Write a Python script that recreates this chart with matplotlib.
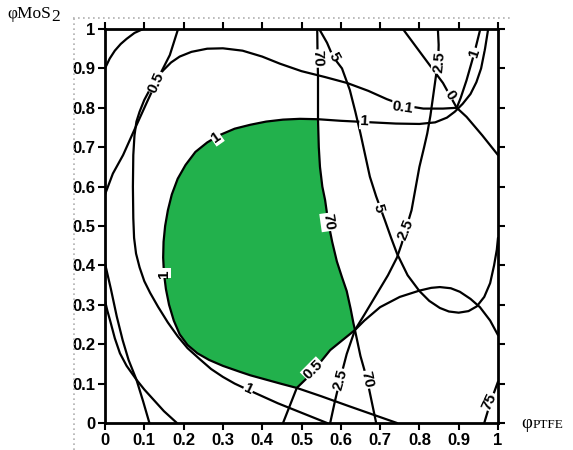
import numpy as np
import matplotlib
matplotlib.use("Agg")
import matplotlib.pyplot as plt
from matplotlib.lines import Line2D

# ---------------- data ----------------
tick_values = [0, 0.1, 0.2, 0.3, 0.4, 0.5, 0.6, 0.7, 0.8, 0.9, 1.0]
tick_labels = ["0", "0.1", "0.2", "0.3", "0.4", "0.5", "0.6", "0.7", "0.8", "0.9", "1"]

# curve A (top-left corner arc)
curve_a_x = [0.0, 0.012, 0.025, 0.04, 0.055, 0.075, 0.097]
curve_a_y = [0.90, 0.925, 0.945, 0.962, 0.975, 0.99, 1.0]

# curve B ("0.5", from left spine to top)
curve_b_x = [0.0, 0.02, 0.046, 0.072, 0.107, 0.135, 0.165, 0.186]
curve_b_y = [0.58, 0.633, 0.68, 0.738, 0.815, 0.875, 0.934, 1.0]

# curves F and G (bottom-left)
curve_f_x = [0.0, 0.015, 0.03, 0.045, 0.06, 0.08, 0.097, 0.113]
curve_f_y = [0.405, 0.34, 0.27, 0.21, 0.16, 0.11, 0.055, 0.0]
curve_g_x = [0.0, 0.006, 0.013, 0.025, 0.038, 0.055, 0.08, 0.10, 0.12, 0.15, 0.183]
curve_g_y = [0.31, 0.285, 0.26, 0.215, 0.177, 0.145, 0.11, 0.085, 0.063, 0.03, 0.0]

# curve D ("1" / "0.1", big outer curve)
curve_d_x = [0.565, 0.52, 0.49, 0.44, 0.40, 0.36, 0.33, 0.30, 0.27, 0.24, 0.21, 0.185,
             0.16, 0.135, 0.115, 0.10, 0.088, 0.079, 0.074, 0.072, 0.071, 0.072, 0.075,
             0.08, 0.088, 0.10, 0.115, 0.13, 0.148, 0.168, 0.19, 0.22, 0.26, 0.30, 0.35,
             0.40, 0.445, 0.50, 0.56, 0.616, 0.67, 0.717, 0.76, 0.81, 0.86, 0.895,
             0.905, 0.92, 0.94, 0.955]
curve_d_y = [0.0, 0.018, 0.03, 0.05, 0.068, 0.086, 0.10, 0.117, 0.137, 0.163, 0.19, 0.22,
             0.255, 0.295, 0.33, 0.36, 0.395, 0.43, 0.47, 0.52, 0.60, 0.68, 0.73,
             0.765, 0.79, 0.82, 0.848, 0.872, 0.895, 0.915, 0.93, 0.942, 0.95, 0.951, 0.945,
             0.93, 0.912, 0.893, 0.878, 0.863, 0.843, 0.822, 0.806, 0.798, 0.798, 0.80,
             0.825, 0.87, 0.94, 1.0]

# curve E ("1", boundary of the green region), split in three pieces
curve_e_low_x = [0.743, 0.68, 0.62, 0.55, 0.488]
curve_e_low_y = [0.0, 0.022, 0.043, 0.068, 0.089]
curve_e_green_x = [0.488, 0.45, 0.41, 0.37, 0.343, 0.30, 0.265, 0.235, 0.21, 0.19, 0.175,
                   0.163, 0.155, 0.15, 0.148, 0.149, 0.153, 0.16, 0.17, 0.185, 0.205, 0.23,
                   0.26, 0.29, 0.33, 0.37, 0.41, 0.453, 0.496, 0.542]
curve_e_green_y = [0.089, 0.099, 0.11, 0.121, 0.130, 0.145, 0.16, 0.177, 0.198, 0.225, 0.26,
                   0.30, 0.34, 0.38, 0.42, 0.46, 0.50, 0.54, 0.58, 0.62, 0.655, 0.688,
                   0.712, 0.73, 0.747, 0.757, 0.765, 0.77, 0.772, 0.771]
curve_e_right_x = [0.542, 0.60, 0.66, 0.74, 0.80, 0.84, 0.87, 0.89, 0.91, 0.93, 0.945,
                   0.957, 0.967, 0.975]
curve_e_right_y = [0.771, 0.767, 0.764, 0.76, 0.759, 0.763, 0.775, 0.79, 0.81, 0.835, 0.865,
                   0.90, 0.95, 1.0]

# curve "70", split in three pieces
curve_70_top_x = [0.54, 0.541, 0.542, 0.542]
curve_70_top_y = [1.0, 0.92, 0.88, 0.771]
curve_70_green_x = [0.542, 0.544, 0.547, 0.553, 0.56, 0.568, 0.578, 0.59, 0.603, 0.615,
                    0.625, 0.632, 0.636]
curve_70_green_y = [0.771, 0.70, 0.65, 0.60, 0.566, 0.51, 0.46, 0.41, 0.37, 0.335,
                    0.29, 0.254, 0.236]
curve_70_low_x = [0.636, 0.65, 0.667, 0.69]
curve_70_low_y = [0.236, 0.17, 0.11, 0.0]

# curve "0.5", split in three pieces
curve_05_low_x = [0.453, 0.488]
curve_05_low_y = [0.0, 0.089]
curve_05_green_x = [0.488, 0.52, 0.573, 0.636]
curve_05_green_y = [0.089, 0.12, 0.185, 0.236]
curve_05_wave_x = [0.636, 0.66, 0.70, 0.75, 0.80, 0.83, 0.852, 0.88, 0.903, 0.93, 0.954,
                   0.98, 1.0]
curve_05_wave_y = [0.236, 0.26, 0.294, 0.32, 0.336, 0.343, 0.345, 0.342, 0.333, 0.315,
                   0.294, 0.26, 0.223]

# curve "2.5"
curve_25_x = [0.573, 0.585, 0.598, 0.615, 0.636, 0.66, 0.69, 0.72, 0.743, 0.755, 0.765,
              0.78, 0.79, 0.80, 0.812, 0.82, 0.828, 0.835, 0.842, 0.848, 0.849, 0.847]
curve_25_y = [0.0, 0.055, 0.11, 0.175, 0.236, 0.275, 0.325, 0.375, 0.42, 0.455, 0.49,
              0.54, 0.595, 0.65, 0.70, 0.735, 0.78, 0.83, 0.88, 0.92, 0.96, 1.0]

# curve "5"
curve_5_x = [0.545, 0.565, 0.58, 0.603, 0.623, 0.637, 0.65, 0.662, 0.674, 0.69, 0.712,
             0.728, 0.743, 0.77, 0.80, 0.825, 0.852, 0.875, 0.90, 0.925, 0.946, 0.965,
             0.98, 0.99, 0.997, 1.0]
curve_5_y = [1.0, 0.965, 0.93, 0.90, 0.845, 0.79, 0.735, 0.68, 0.625, 0.575, 0.515,
             0.47, 0.43, 0.375, 0.335, 0.31, 0.292, 0.283, 0.28, 0.284, 0.296, 0.32,
             0.355, 0.40, 0.44, 0.47]

# curve "0" (diagonal top right)
curve_0_x = [0.758, 0.81, 0.86, 0.895, 0.92, 0.96, 1.0]
curve_0_y = [1.0, 0.93, 0.863, 0.80, 0.777, 0.73, 0.68]

# curve "75" (bottom right corner)
curve_75_x = [0.965, 0.98, 1.0]
curve_75_y = [0.0, 0.05, 0.105]

# contour labels: text, x, y, rotation
label_text = ["0.5", "1", "1", "1", "0.1", "1", "1", "70", "5", "70", "5",
              "2.5", "2.5", "2.5", "0", "0.5", "70", "75"]
label_x = [0.13, 0.283, 0.149, 0.66, 0.758, 0.365, 0.94, 0.541, 0.582, 0.568, 0.695,
           0.765, 0.85, 0.598, 0.878, 0.53, 0.667, 0.978]
label_y = [0.865, 0.725, 0.38, 0.765, 0.80, 0.086, 0.94, 0.925, 0.93, 0.51, 0.545,
           0.49, 0.915, 0.11, 0.832, 0.135, 0.11, 0.055]
label_rot = [66, 35, 90, -3, -8, -25, 72, -88, -62, -82, -75,
             68, 85, 75, -55, 45, -78, 65]

GREEN = "#22b14c"

# ---------------- figure ----------------
W, H = 573, 450
fig = plt.figure(figsize=(W / 100, H / 100), dpi=100)
ax = fig.add_axes([105 / W, 27 / H, 393 / W, 394 / H])
ax.set_xlim(0, 1)
ax.set_ylim(0, 1)

# green region
gx = np.concatenate([curve_e_green_x, curve_70_green_x, curve_05_green_x[::-1]])
gy = np.concatenate([curve_e_green_y, curve_70_green_y, curve_05_green_y[::-1]])
ax.fill(gx, gy, color=GREEN, zorder=1, lw=0)

lw = 1.6
curves = [
    (curve_a_x, curve_a_y),
    (curve_b_x, curve_b_y),
    (curve_f_x, curve_f_y),
    (curve_g_x, curve_g_y),
    (curve_d_x, curve_d_y),
    (curve_e_low_x + curve_e_green_x[1:] + curve_e_right_x[1:],
     curve_e_low_y + curve_e_green_y[1:] + curve_e_right_y[1:]),
    (curve_70_top_x + curve_70_green_x[1:] + curve_70_low_x[1:],
     curve_70_top_y + curve_70_green_y[1:] + curve_70_low_y[1:]),
    (curve_05_low_x + curve_05_green_x[1:] + curve_05_wave_x[1:],
     curve_05_low_y + curve_05_green_y[1:] + curve_05_wave_y[1:]),
    (curve_25_x, curve_25_y),
    (curve_5_x, curve_5_y),
    (curve_0_x, curve_0_y),
    (curve_75_x, curve_75_y),
]
for cx, cy in curves:
    ax.plot(cx, cy, color="black", lw=lw, zorder=3, solid_capstyle="round",
            solid_joinstyle="round")

for t, x, y, r in zip(label_text, label_x, label_y, label_rot):
    ax.text(x, y, t, rotation=r, ha="center", va="center", fontsize=11,
            fontweight="bold", family="Liberation Sans", zorder=5,
            bbox=dict(boxstyle="square,pad=0.05", fc="white", ec="none"))

# axes styling
ax.set_xticks(tick_values)
ax.set_xticklabels(tick_labels)
ax.set_yticks(tick_values)
ax.set_yticklabels(tick_labels)
ax.tick_params(direction="out", length=5, width=1.5, top=True, right=True,
               labelsize=12, pad=2)
for lab in ax.get_xticklabels() + ax.get_yticklabels():
    lab.set_fontweight("bold")
    lab.set_family("Liberation Sans")
for s in ax.spines.values():
    s.set_linewidth(2)
    s.set_zorder(6)

# dotted frame (top and left)
fig.add_artist(Line2D([73 / W, 513 / W], [1 - 18 / H, 1 - 18 / H], transform=fig.transFigure,
                      color="#b0b0b0", lw=1.2, ls=(0, (1, 2))))
fig.add_artist(Line2D([74 / W, 74 / W], [0, 1 - 18 / H], transform=fig.transFigure,
                      color="#b0b0b0", lw=1.2, ls=(0, (1, 2))))

# axis titles
serif = ["Liberation Serif", "DejaVu Serif"]
t1 = fig.text(7 / W, 1 - 14 / H, "φMoS", family=serif, fontsize=12.5,
              ha="left", va="center")
ax.annotate("2", xy=(1, 0), xycoords=t1, xytext=(0.5, -2.5), textcoords="offset points",
            family=serif, fontsize=12.5, ha="left", va="bottom", annotation_clip=False)
t2 = fig.text(521 / W, 1 - 424 / H, "φ", family=serif, fontsize=13.5,
              ha="left", va="center")
ax.annotate("PTFE", xy=(1, 0), xycoords=t2, xytext=(0.5, 1), textcoords="offset points",
            family=serif, fontsize=9.5, ha="left", va="bottom", annotation_clip=False)

fig.savefig("out.png", dpi=100)
